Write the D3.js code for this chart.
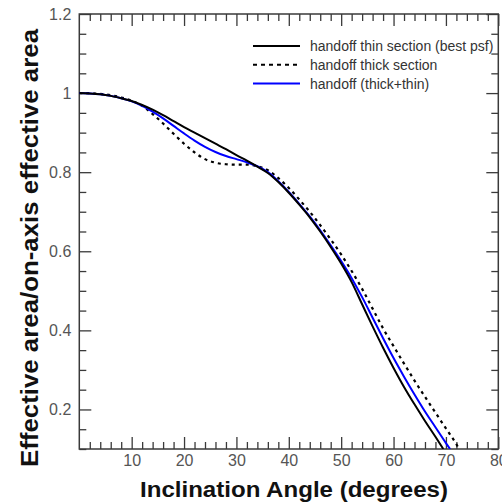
<!DOCTYPE html>
<html>
<head>
<meta charset="utf-8">
<script src="https://cdn.jsdelivr.net/npm/d3@7"></script>
<style>
  html, body { margin: 0; padding: 0; background: #fff; overflow: hidden; }
  svg { display: block; font-family: Arial, "Liberation Sans", Helvetica, sans-serif; }
</style>
</head>
<body>
<svg id="chart" width="502" height="503"></svg>
<script>
// ---------- data ----------
const thinAngles  = [0, 2, 4, 6, 8, 10, 12, 14, 16, 18, 20, 22, 24, 26, 28, 30, 32, 34, 36, 38, 40, 42, 44, 46, 48, 50, 52, 54, 56, 58, 60, 62, 64, 66, 68, 69.5];
const thinValues  = [1.000, 0.999, 0.997, 0.993, 0.987, 0.980, 0.970, 0.958, 0.944, 0.929, 0.914, 0.900, 0.886, 0.872, 0.858, 0.843, 0.829, 0.814, 0.798, 0.775, 0.748, 0.718, 0.686, 0.650, 0.611, 0.569, 0.522, 0.466, 0.410, 0.356, 0.305, 0.257, 0.213, 0.171, 0.131, 0.100];

const thickAngles = [0, 2, 4, 6, 8, 10, 12, 14, 16, 18, 20, 22, 24, 26, 28, 30, 32, 34, 36, 38, 40, 42, 44, 46, 48, 50, 52, 54, 56, 58, 60, 62, 64, 66, 68, 70, 72, 72.5];
const thickValues = [1.000, 1.000, 0.998, 0.995, 0.989, 0.981, 0.968, 0.947, 0.923, 0.897, 0.872, 0.850, 0.833, 0.824, 0.820, 0.819, 0.819, 0.815, 0.805, 0.785, 0.760, 0.731, 0.700, 0.666, 0.630, 0.592, 0.550, 0.505, 0.455, 0.405, 0.360, 0.316, 0.273, 0.232, 0.192, 0.152, 0.112, 0.100];

const bothAngles  = [0, 2, 4, 6, 8, 10, 12, 14, 16, 18, 20, 22, 24, 26, 28, 30, 32, 34, 36, 38, 40, 42, 44, 46, 48, 50, 52, 54, 56, 58, 60, 62, 64, 66, 68, 70, 70.8];
const bothValues  = [1.000, 0.999, 0.997, 0.993, 0.987, 0.979, 0.968, 0.953, 0.936, 0.917, 0.898, 0.880, 0.864, 0.851, 0.841, 0.833, 0.825, 0.815, 0.800, 0.777, 0.750, 0.720, 0.688, 0.653, 0.615, 0.575, 0.532, 0.484, 0.432, 0.380, 0.330, 0.283, 0.238, 0.195, 0.155, 0.115, 0.100];

const seriesNames = ["handoff thin section (best psf)", "handoff thick section", "handoff (thick+thin)"];

const xMajorTicks = [10, 20, 30, 40, 50, 60, 70, 80];
const xTickLabels = ["10", "20", "30", "40", "50", "60", "70", "80"];
const yMajorTicks = [0.2, 0.4, 0.6, 0.8, 1.0, 1.2];
const yTickLabels = ["0.2", "0.4", "0.6", "0.8", "1", "1.2"];

const xTitle = "Inclination Angle (degrees)";
const yTitle = "Effective area/on-axis effective area";

// ---------- layout ----------
const svg = d3.select("#chart");
const L = 79.3, R = 498.3, T = 14, B = 449;

const x = d3.scaleLinear().domain([0, 80]).range([L, R]);
const y = d3.scaleLinear().domain([0.1, 1.2]).range([B, T]);

const xMinor = d3.range(0, 81, 2).filter(v => v % 10 !== 0);
const yMinor = d3.range(0.1, 1.2001, 0.05).map(v => +v.toFixed(2)).filter(v => Math.abs(v * 5 - Math.round(v * 5)) > 1e-6);

const axisColor = "#3a3a3a";
const labelColor = "#555";
const MAJ = 12, MIN = 7;

function styleAxis(g) {
  g.select(".domain").remove();
  g.selectAll(".tick line").attr("stroke", axisColor).attr("stroke-width", 1.3);
  g.selectAll(".tick text").attr("fill", labelColor).style("font-size", "16px")
    .style("font-family", "Arial, 'Liberation Sans', sans-serif");
}

// bottom
svg.append("g").attr("transform", `translate(0,${B})`)
  .call(d3.axisBottom(x).tickValues(xMinor).tickSize(-MIN).tickFormat(""))
  .call(styleAxis);
svg.append("g").attr("transform", `translate(0,${B})`)
  .call(d3.axisBottom(x).tickValues(xMajorTicks).tickSize(-MAJ).tickPadding(6)
        .tickFormat((d, i) => xTickLabels[i]))
  .call(styleAxis);
// top
svg.append("g").attr("transform", `translate(0,${T})`)
  .call(d3.axisTop(x).tickValues(xMinor).tickSize(-MIN).tickFormat(""))
  .call(styleAxis);
svg.append("g").attr("transform", `translate(0,${T})`)
  .call(d3.axisTop(x).tickValues(xMajorTicks).tickSize(-MAJ).tickFormat(""))
  .call(styleAxis);
// left
svg.append("g").attr("transform", `translate(${L},0)`)
  .call(d3.axisLeft(y).tickValues(yMinor).tickSize(-MIN).tickFormat(""))
  .call(styleAxis);
svg.append("g").attr("transform", `translate(${L},0)`)
  .call(d3.axisLeft(y).tickValues(yMajorTicks).tickSize(-MAJ).tickPadding(8)
        .tickFormat((d, i) => yTickLabels[i]))
  .call(styleAxis);
// right
svg.append("g").attr("transform", `translate(${R},0)`)
  .call(d3.axisRight(y).tickValues(yMinor).tickSize(-MIN).tickFormat(""))
  .call(styleAxis);
svg.append("g").attr("transform", `translate(${R},0)`)
  .call(d3.axisRight(y).tickValues(yMajorTicks).tickSize(-MAJ).tickFormat(""))
  .call(styleAxis);

// frame
svg.append("rect").attr("x", L).attr("y", T).attr("width", R - L).attr("height", B - T)
  .attr("fill", "none").attr("stroke", axisColor).attr("stroke-width", 1.5);

// clip
svg.append("clipPath").attr("id", "plotclip").append("rect")
  .attr("x", L).attr("y", T).attr("width", R - L).attr("height", B - T);

const line = d3.line().x(d => x(d[0])).y(d => y(d[1])).curve(d3.curveMonotoneX);
const zip = (a, b) => a.map((v, i) => [v, b[i]]);

const plot = svg.append("g").attr("clip-path", "url(#plotclip)");
plot.append("path").datum(zip(thickAngles, thickValues)).attr("d", line)
  .attr("fill", "none").attr("stroke", "#000").attr("stroke-width", 2.2).attr("stroke-dasharray", "3,4");
plot.append("path").datum(zip(bothAngles, bothValues)).attr("d", line)
  .attr("fill", "none").attr("stroke", "#0000ff").attr("stroke-width", 2);
plot.append("path").datum(zip(thinAngles, thinValues)).attr("d", line)
  .attr("fill", "none").attr("stroke", "#000").attr("stroke-width", 2);

// legend
const legendStyles = [
  { stroke: "#000", dash: null },
  { stroke: "#000", dash: "4,4" },
  { stroke: "#0000ff", dash: null }
];
const leg = svg.append("g");
seriesNames.forEach((name, i) => {
  const cy = 46 + i * 18.8;
  leg.append("line").attr("x1", 253).attr("x2", 300).attr("y1", cy).attr("y2", cy)
    .attr("stroke", legendStyles[i].stroke).attr("stroke-width", 2)
    .attr("stroke-dasharray", legendStyles[i].dash);
  leg.append("text").attr("x", 310).attr("y", cy + 5).attr("fill", "#333")
    .style("font-size", "14px").text(name);
});

// titles
svg.append("text").attr("x", 294).attr("y", 497).attr("text-anchor", "middle")
  .style("font-size", "22px").style("font-weight", "bold").attr("fill", "#111")
  .attr("textLength", 308).attr("lengthAdjust", "spacingAndGlyphs")
  .text(xTitle);
svg.append("text").attr("transform", "translate(38,248) rotate(-90)").attr("text-anchor", "middle")
  .style("font-size", "23px").style("font-weight", "bold").attr("fill", "#111")
  .attr("textLength", 438).attr("lengthAdjust", "spacingAndGlyphs")
  .text(yTitle);
</script>
</body>
</html>
